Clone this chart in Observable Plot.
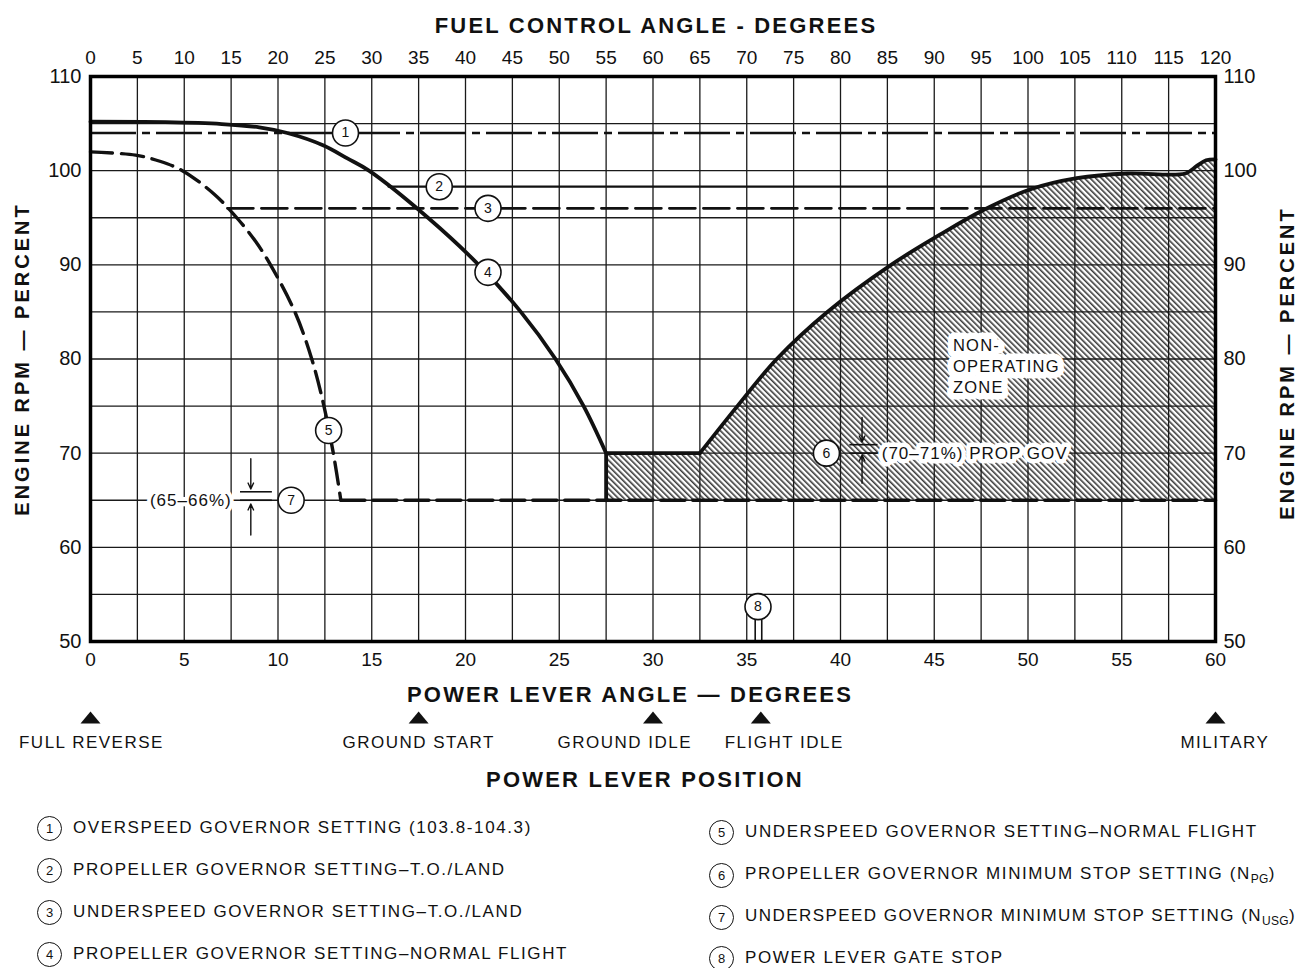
<!DOCTYPE html>
<html>
<head>
<meta charset="utf-8">
<script src="https://cdn.jsdelivr.net/npm/d3@7"></script>
<script src="https://cdn.jsdelivr.net/npm/@observablehq/plot@0.6"></script>
<style>
  body { margin: 0; background: #fff; font-family: "Liberation Sans", Arial, sans-serif; color: #111; }
  #wrap { position: relative; width: 1305px; height: 968px; overflow: hidden; background: #fff; }
  #chart { position: absolute; left: 0; top: 0; }
  .leg { position: absolute; height: 26px; display: flex; align-items: center; white-space: nowrap;
         font-size: 17px; letter-spacing: 1.6px; color: #111; }
  .leg .c { width: 25px; height: 25px; border: 1.6px solid #111; border-radius: 50%; box-sizing: border-box;
            display: flex; align-items: center; justify-content: center; font-size: 13px; letter-spacing: 0;
            margin-right: 11px; flex: none; }
  .leg sub { font-size: 12px; letter-spacing: 0.3px; }
</style>
</head>
<body>
<div id="wrap"><div id="chart"></div><div id="legend"></div></div>
<script>
// ---------- axes / ticks ----------
const plaTicks = [0, 5, 10, 15, 20, 25, 30, 35, 40, 45, 50, 55, 60];                 // power lever angle
const fcaTicks = [0, 5, 10, 15, 20, 25, 30, 35, 40, 45, 50, 55, 60, 65, 70, 75, 80, 85,
                  90, 95, 100, 105, 110, 115, 120];                                     // fuel control angle
const rpmTicks = [50, 60, 70, 80, 90, 100, 110];
const gridPla = [0, 2.5, 5, 7.5, 10, 12.5, 15, 17.5, 20, 22.5, 25, 27.5, 30, 32.5, 35, 37.5,
                 40, 42.5, 45, 47.5, 50, 52.5, 55, 57.5, 60];
const gridRpm = [50, 55, 60, 65, 70, 75, 80, 85, 90, 95, 100, 105, 110];

// ---------- series (PLA deg, engine RPM %) ----------
const overspeedSetting = [104.0];                                   // (1)
const propGovTOLand = [[15.9, 98.3], [50.7, 98.3]];                 // (2)
const underspeedTOLand = [[7.3, 96.0], [60, 96.0]];                 // (3)
const propGovNormal = [[0, 105.2], [4, 105.15], [7, 104.95], [9, 104.6], [10.5, 104.0], [12.4, 102.7],
                       [13.7, 101.3], [14.85, 100], [18.0, 95], [20.7, 90], [22.95, 85], [24.8, 80],
                       [26.3, 75], [27.5, 70]];                      // (4)
const underspeedNormal = [[0, 102.0], [2.4, 101.65], [3.7, 101.0], [4.9, 100], [6.6, 97.5], [7.8, 95],
                          [8.8, 92.5], [9.6, 90], [10.9, 85], [11.8, 80], [12.45, 75], [12.95, 70],
                          [13.35, 65]];                              // (5)
const pgMinStop = 70;                                               // (6)
const usgMinStop = 65;                                              // (7)
const usgMinLine = [[13.35, 65], [60, 65]];
const gateStop = [35.45, 35.8];                                     // (8)
const gateStopTop = 52.3;
const zoneStep = [[27.5, 65], [27.5, 70], [32.5, 70]];
const zoneCurve = [[32.5, 70], [34.5, 75], [36.6, 80], [39.3, 85], [42.7, 90], [45.3, 93.2], [47.6, 95.8],
                   [50.1, 98.0], [52.6, 99.2], [55.3, 99.7], [58.4, 99.7], [59.0, 100.5], [59.5, 101.1],
                   [60, 101.2]];

// tolerance indicators (6) and (7)
const tolBars = [
  {x1: 8.0, x2: 9.7, y: 65}, {x1: 8.0, x2: 9.7, y: 65.9},
  {x1: 40.5, x2: 42.0, y: 70}, {x1: 40.5, x2: 42.0, y: 70.9}
];
const tolArrows = [
  {x: 8.55, from: 69.4, to: 66.2}, {x: 8.55, from: 61.3, to: 64.6},
  {x: 41.15, from: 73.8, to: 71.2}, {x: 41.15, from: 66.8, to: 69.8}
];

// numbered call-outs
const markers = [
  {n: "1", pla: 13.6, rpm: 104.0}, {n: "2", pla: 18.6, rpm: 98.3}, {n: "3", pla: 21.2, rpm: 96.0},
  {n: "4", pla: 21.2, rpm: 89.2}, {n: "5", pla: 12.7, rpm: 72.4}, {n: "6", pla: 39.25, rpm: 70},
  {n: "7", pla: 10.7, rpm: 65}, {n: "8", pla: 35.6, rpm: 53.7}
];

// annotations
const label65 = [{pla: 5.35, rpm: 65, text: "(65\u201366%)"}];
const label70 = [{pla: 42.2, rpm: 70, text: "(70\u201371%) PROP GOV"}];
const zoneLabel = [{pla: 46.0, rpm: 79.3, text: "NON-\nOPERATING\nZONE"}];

// power lever positions
const positions = [
  {name: "FULL REVERSE", at: 0, labelAt: 0.05},
  {name: "GROUND START", at: 17.5, labelAt: 17.5},
  {name: "GROUND IDLE", at: 30, labelAt: 28.5},
  {name: "FLIGHT IDLE", at: 35.75, labelAt: 37.0},
  {name: "MILITARY", at: 60, labelAt: 60.5}
];

const titleTop = "FUEL CONTROL ANGLE - DEGREES";
const titleBottom = "POWER LEVER ANGLE \u2014 DEGREES";
const titleY = "ENGINE RPM \u2014 PERCENT";
const titlePos = "POWER LEVER POSITION";

const legendNums = ["1", "2", "3", "4", "5", "6", "7", "8"];
const legendTexts = [
  "OVERSPEED GOVERNOR SETTING (103.8-104.3)",
  "PROPELLER GOVERNOR SETTING\u2013T.O./LAND",
  "UNDERSPEED GOVERNOR SETTING\u2013T.O./LAND",
  "PROPELLER GOVERNOR SETTING\u2013NORMAL FLIGHT",
  "UNDERSPEED GOVERNOR SETTING\u2013NORMAL FLIGHT",
  "PROPELLER GOVERNOR MINIMUM STOP SETTING (N<sub>PG</sub>)",
  "UNDERSPEED GOVERNOR MINIMUM STOP SETTING (N<sub>USG</sub>)",
  "POWER LEVER GATE STOP"
];

// ---------- drawing ----------
const ink = "#111";
const px = d => d[0], py = d => d[1];
const tri = {draw(ctx) { ctx.moveTo(0, -6); ctx.lineTo(10, 6); ctx.lineTo(-10, 6); ctx.closePath(); }};
const smooth = "catmull-rom";

const svg = Plot.plot({
  width: 1305, height: 800,
  marginLeft: 90, marginRight: 90, marginTop: 76, marginBottom: 159,
  x: {domain: [0, 60]},
  y: {domain: [50, 110]},
  style: {fontFamily: '"Liberation Sans", Arial, sans-serif', fontSize: "20px", background: "white", color: ink, overflow: "visible"},
  marks: [
    // non-operating zone (hatched)
    Plot.areaY(zoneStep.slice(1), {x: px, y1: usgMinStop, y2: py, fill: "url(#hatch)"}),
    Plot.areaY(zoneCurve, {x: px, y1: usgMinStop, y2: py, fill: "url(#hatch)", curve: smooth}),
    // grid
    Plot.ruleX(gridPla, {stroke: "#1a1a1a", strokeWidth: 1.3}),
    Plot.ruleY(gridRpm, {stroke: "#1a1a1a", strokeWidth: 1.3}),
    // (1) overspeed governor
    Plot.ruleY(overspeedSetting, {stroke: ink, strokeWidth: 2.3, strokeDasharray: "46,6,8,6"}),
    // (2)
    Plot.line(propGovTOLand, {x: px, y: py, stroke: ink, strokeWidth: 2.3}),
    // (3)
    Plot.line(underspeedTOLand, {x: px, y: py, stroke: ink, strokeWidth: 2.7, strokeDasharray: "26,8"}),
    // (7) minimum stop dashed
    Plot.line(usgMinLine, {x: px, y: py, stroke: ink, strokeWidth: 3.6, strokeDasharray: "24,8"}),
    // (5)
    Plot.line(underspeedNormal, {x: px, y: py, stroke: ink, strokeWidth: 3.4, strokeDasharray: "22,9", curve: smooth}),
    // zone boundary
    Plot.line(zoneStep, {x: px, y: py, stroke: ink, strokeWidth: 3.8}),
    Plot.line(zoneCurve, {x: px, y: py, stroke: ink, strokeWidth: 3.8, curve: smooth}),
    // (4)
    Plot.line(propGovNormal, {x: px, y: py, stroke: ink, strokeWidth: 3.8, curve: smooth}),
    // (8) gate stop
    Plot.ruleX(gateStop, {y1: 50, y2: gateStopTop, stroke: ink, strokeWidth: 1.6}),
    // tolerance bars & arrows
    Plot.ruleY(tolBars, {y: "y", x1: "x1", x2: "x2", stroke: ink, strokeWidth: 1.6}),
    Plot.arrow(tolArrows, {x1: "x", x2: "x", y1: "from", y2: "to", stroke: ink, strokeWidth: 1.4, headLength: 7, headAngle: 50}),
    // annotation labels with white backgrounds
    Plot.text(label65, {x: "pla", y: "rpm", text: "text", textAnchor: "middle", fontSize: 17,
      fill: ink, stroke: "white", strokeWidth: 8, paintOrder: "stroke", strokeLinejoin: "round"}),
    Plot.text(label70, {x: "pla", y: "rpm", text: "text", textAnchor: "start", fontSize: 17,
      fill: ink, stroke: "white", strokeWidth: 9, paintOrder: "stroke", strokeLinejoin: "round"}),
    Plot.text(zoneLabel, {x: "pla", y: "rpm", text: "text", textAnchor: "start", fontSize: 16.5, lineHeight: 1.27,
      fill: ink, stroke: "white", strokeWidth: 13, paintOrder: "stroke", strokeLinejoin: "round"}),
    // numbered call-outs
    Plot.dot(markers, {x: "pla", y: "rpm", r: 13, fill: "white", stroke: ink, strokeWidth: 1.6}),
    Plot.text(markers, {x: "pla", y: "rpm", text: "n", fontSize: 14, fill: ink}),
    // frame & axes
    Plot.frame({stroke: "#000", strokeWidth: 3.5}),
    Plot.axisX(plaTicks, {anchor: "bottom", tickSize: 0, tickPadding: 11, fontSize: 19, label: null}),
    Plot.axisX(fcaTicks.map(d => d / 2), {anchor: "top", tickSize: 0, tickPadding: 13, fontSize: 19, label: null,
      tickFormat: d => String(d * 2)}),
    Plot.axisY(rpmTicks, {anchor: "left", tickSize: 0, tickPadding: 9, fontSize: 20, label: null}),
    Plot.axisY(rpmTicks, {anchor: "right", tickSize: 0, tickPadding: 8, fontSize: 20, label: null}),
    // titles
    Plot.text([titleTop], {frameAnchor: "top", dy: -51, dx: 3, lineAnchor: "middle", textAnchor: "middle", fontSize: 22, fontWeight: "bold"}),
    Plot.text([titleBottom], {frameAnchor: "bottom", dy: 53, dx: -23, lineAnchor: "middle", textAnchor: "middle", fontSize: 22, fontWeight: "bold"}),
    Plot.text([titleY], {frameAnchor: "left", dx: -68, dy: 0, rotate: -90, lineAnchor: "middle", textAnchor: "middle", fontSize: 20, fontWeight: "bold"}),
    Plot.text([titleY], {frameAnchor: "right", dx: 72, dy: 4, rotate: -90, lineAnchor: "middle", textAnchor: "middle", fontSize: 20, fontWeight: "bold"}),
    // power lever positions
    Plot.dot(positions, {x: "at", frameAnchor: "bottom", dy: 76, symbol: tri, r: 10, fill: ink, stroke: "none"}),
    Plot.text(positions, {x: "labelAt", text: "name", frameAnchor: "bottom", dy: 101, lineAnchor: "middle", textAnchor: "middle", fontSize: 17}),
    Plot.text([titlePos], {frameAnchor: "bottom", dy: 138, dx: -8, lineAnchor: "middle", textAnchor: "middle", fontSize: 22, fontWeight: "bold"})
  ]
});

// hatch pattern definition
d3.select(svg).insert("defs", ":first-child").html(
  '<pattern id="hatch" patternUnits="userSpaceOnUse" width="4" height="4" patternTransform="rotate(-45)">' +
  '<rect width="4" height="4" fill="#fff"/>' +
  '<line x1="0.8" y1="-1" x2="0.8" y2="6" stroke="#3a3a3a" stroke-width="1.6"/></pattern>'
);

// letter spacing for titles and labels
const spacing = new Map([[titleTop, "2.2px"], [titleBottom, "2.2px"], [titleY, "3px"], [titlePos, "2.2px"]]);
positions.forEach(p => spacing.set(p.name, "1.5px"));
spacing.set(label65[0].text, "1px");
spacing.set(label70[0].text, "1px");
d3.select(svg).selectAll("text").each(function () {
  const t = this.textContent;
  if (spacing.has(t)) this.style.letterSpacing = spacing.get(t);
  if (t.startsWith("NON-")) this.style.letterSpacing = "1.2px";
});

document.getElementById("chart").appendChild(svg);

// legend
const legendPos = [
  [37, 828], [37, 870], [37, 912], [37, 954],
  [709, 832], [709, 875], [709, 917], [709, 958]
];
const leg = document.getElementById("legend");
legendNums.forEach((n, i) => {
  const div = document.createElement("div");
  div.className = "leg";
  div.style.left = legendPos[i][0] + "px";
  div.style.top = (legendPos[i][1] - 13) + "px";
  if (i === 6) div.style.letterSpacing = "1.45px";
  div.innerHTML = '<span class="c">' + n + '</span><span>' + legendTexts[i] + '</span>';
  leg.appendChild(div);
});
</script>
</body>
</html>
